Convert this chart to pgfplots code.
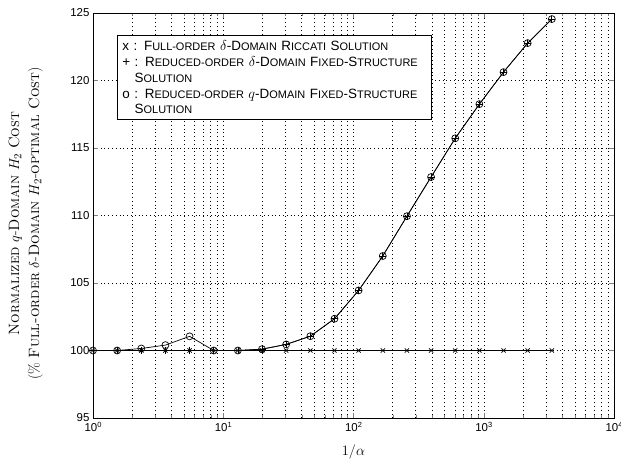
\documentclass[border=0pt]{standalone}
\usepackage{fontspec}
\usepackage{pgfplots}
\pgfplotsset{compat=1.18}
\newfontfamily\arial{Liberation Sans}
\newcommand\smc[1]{{\fontsize{11}{12}\selectfont #1}}

\begin{document}
\begin{tikzpicture}
\useasboundingbox (-93bp,-55bp) rectangle (528bp,418bp);
\begin{axis}[
    scale only axis,
    width=521bp, height=405bp,
    xmode=log,
    xmin=1, xmax=10000,
    ymin=95, ymax=125,
    ytick={95,100,...,125},
    xtick={1,10,100,1000,10000},
    xticklabels={10\raisebox{0.6ex}{\fontsize{7.5}{8}\selectfont 0},
                 10\raisebox{0.6ex}{\fontsize{7.5}{8}\selectfont 1},
                 10\raisebox{0.6ex}{\fontsize{7.5}{8}\selectfont 2},
                 10\raisebox{0.6ex}{\fontsize{7.5}{8}\selectfont 3},
                 10\raisebox{0.6ex}{\fontsize{7.5}{8}\selectfont 4}},
    tick label style={font=\arial\fontsize{11.5}{12}\selectfont},
    xticklabel style={yshift=-1bp},
    /pgf/number format/assume math mode=true,
    tick align=inside,
    major tick length=5bp,
    minor tick length=3bp,
    grid=both,
    major grid style={black, line width=0.45pt, dash pattern=on 0.6bp off 3.2bp},
    minor grid style={black, line width=0.45pt, dash pattern=on 0.6bp off 3.2bp},
    axis line style={line width=0.8pt},
    xlabel={$1/\alpha$},
    xlabel style={font=\fontsize{15}{16}\selectfont, yshift=-6bp},
    ylabel={\textsc{Normalized} $q$-\textsc{Domain} $H_2$ \textsc{Cost}\\
            (\% \textsc{Full-order} $\delta$-\textsc{Domain} $H_2$-\textsc{optimal Cost})},
    ylabel style={font=\fontsize{15}{20}\selectfont, align=center,
                  at={(axis description cs:-0.129,0.48)}, anchor=center},
]
% full-order delta-domain Riccati
\addplot[black, line width=0.7pt, mark=x, mark size=3pt] coordinates {
(1,100) (1.532,100) (2.349,100) (3.599,100) (5.514,100) (8.453,100)
(12.95,100) (19.85,100) (30.42,100) (46.63,100) (71.45,100) (109.5,100)
(167.8,100) (257.2,100) (394.1,100) (604.0,100) (925.6,100) (1418,100)
(2174,100) (3332,100)
};
% reduced-order delta-domain fixed-structure
\addplot[black, line width=0.7pt, mark=+, mark size=3.5pt] coordinates {
(1,100) (1.532,100) (2.349,100) (3.599,100) (5.514,100) (8.453,100)
(12.95,100) (19.85,100.1) (30.42,100.45) (46.63,101.06) (71.45,102.35) (109.5,104.45)
(167.8,107.0) (257.2,109.95) (394.1,112.85) (604.0,115.72) (925.6,118.25) (1418,120.62)
(2174,122.77) (3332,124.55)
};
% reduced-order q-domain fixed-structure
\addplot[black, line width=0.7pt, mark=o, mark size=3.5pt] coordinates {
(1,100) (1.532,100) (2.349,100.15) (3.599,100.4) (5.514,101.05) (8.453,100)
(12.95,100) (19.85,100.1) (30.42,100.45) (46.63,101.06) (71.45,102.35) (109.5,104.45)
(167.8,107.0) (257.2,109.95) (394.1,112.85) (604.0,115.72) (925.6,118.25) (1418,120.62)
(2174,122.77) (3332,124.55)
};
\node[draw, line width=0.8pt, fill=white, anchor=north west, inner sep=5bp,
      font=\arial\fontsize{13.5}{16}\selectfont, align=left, text width=304bp]
  at (rel axis cs:0.046,0.946) {%
  x : F\smc{ULL-ORDER} $\delta$-D\smc{OMAIN} R\smc{ICCATI} S\smc{OLUTION}\\
  + : R\smc{EDUCED-ORDER} $\delta$-D\smc{OMAIN} F\smc{IXED}-S\smc{TRUCTURE}\\
  \phantom{+ }S\smc{OLUTION}\\
  o : R\smc{EDUCED-ORDER} $q$-D\smc{OMAIN} F\smc{IXED}-S\smc{TRUCTURE}\\
  \phantom{+ }S\smc{OLUTION}};
\end{axis}
\end{tikzpicture}
\end{document}
